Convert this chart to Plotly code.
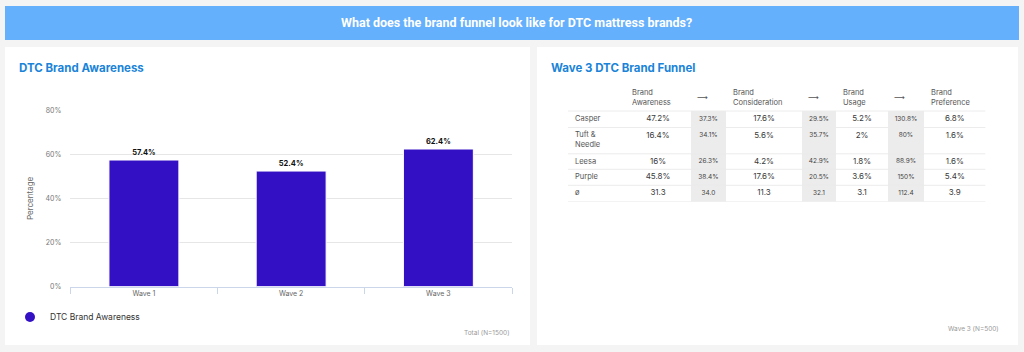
import plotly.graph_objects as go

W, H = 1024, 352

# ---------------- data ----------------
WAVES = ["Wave 1", "Wave 2", "Wave 3"]
DTC_AWARENESS = [57.4, 52.4, 62.4]
Y_TICKS = [0, 20, 40, 60, 80]

BRANDS = ["Casper", "Tuft &<br>Needle", "Leesa", "Purple"]
MEAN_LABEL = "ø"
STAGES = ["Brand<br>Awareness", "Brand<br>Consideration", "Brand<br>Usage", "Brand<br>Preference"]
ARROW = "⟶"
AWARENESS = [47.2, 16.4, 16, 45.8]
CONSIDERATION = [17.6, 5.6, 4.2, 17.6]
USAGE = [5.2, 2, 1.8, 3.6]
PREFERENCE = [6.8, 1.6, 1.6, 5.4]
AWARE_TO_CONSID = [37.3, 34.1, 26.3, 38.4]
CONSID_TO_USAGE = [29.5, 35.7, 42.9, 20.5]
USAGE_TO_PREF = [130.8, 80, 88.9, 150]
COLUMN_MEANS = [31.3, 34.0, 11.3, 32.1, 3.1, 112.4, 3.9]

# ---------------- style ----------------
FONT = "Inter, Roboto, sans-serif"
BAR_COLOR = "#3410c4"
TITLE_BLUE = "#1a84d8"
COL_WIDTHS = [57, 66, 35, 76, 34, 52, 36, 61.6]
ROW_HEIGHTS = [26, 16.5, 26.3, 15.5, 16, 16.4]   # header + 5 body rows
PAD = 7
FIRST_LINE = 8
LINE_H = 9.5

def px_x(v):
    return v / W

def px_y(v):
    return 1 - v / H

fig = go.Figure()

# ---------------- bar chart ----------------
fig.add_trace(go.Bar(
    x=WAVES, y=DTC_AWARENESS, width=0.475,
    marker=dict(color=BAR_COLOR, line=dict(color="#ffffff", width=1)),
    text=[f"<b>{v:g}%</b>" for v in DTC_AWARENESS], textposition="outside",
    textfont=dict(size=7.5, color="#111111", family=FONT),
    cliponaxis=False, showlegend=False, hoverinfo="skip",
    xaxis="x", yaxis="y",
))
fig.add_trace(go.Scatter(
    x=[None], y=[None], mode="markers", name="DTC Brand Awareness",
    marker=dict(symbol="circle", size=10, color=BAR_COLOR),
    xaxis="x", yaxis="y",
))

# ---------------- table ----------------
col_left = [sum(COL_WIDTHS[:i]) for i in range(len(COL_WIDTHS))]
col_center = [col_left[i] + COL_WIDTHS[i] / 2 for i in range(len(COL_WIDTHS))]
row_top = [sum(ROW_HEIGHTS[:i]) for i in range(len(ROW_HEIGHTS))]
table_w = sum(COL_WIDTHS)
table_h = sum(ROW_HEIGHTS)

main_cols = {1: AWARENESS, 3: CONSIDERATION, 5: USAGE, 7: PREFERENCE}
conv_cols = {2: AWARE_TO_CONSID, 4: CONSID_TO_USAGE, 6: USAGE_TO_PREF}

def body_y(r, text):
    """Top-aligned cell text: first line sits FIRST_LINE below the row top."""
    n = text.count("<br>") + 1
    return row_top[r + 1] + FIRST_LINE + (n - 1) * LINE_H / 2

# gray conversion columns
for c in conv_cols:
    fig.add_shape(type="rect", xref="x2", yref="y2",
                  x0=col_left[c], x1=col_left[c] + COL_WIDTHS[c],
                  y0=ROW_HEIGHTS[0], y1=table_h,
                  fillcolor="#ececec", line=dict(width=0), layer="below")
# row lines
for r in range(1, len(ROW_HEIGHTS) + 1):
    yv = sum(ROW_HEIGHTS[:r])
    fig.add_shape(type="line", xref="x2", yref="y2", x0=0, x1=table_w,
                  y0=yv, y1=yv, line=dict(color="#ececec", width=1))

# header texts
hx, hy, ht = [], [], []
stage_cols = [1, 3, 5, 7]
for i, c in enumerate(stage_cols):
    hx.append(col_left[c] + PAD); hy.append(ROW_HEIGHTS[0] / 2); ht.append(STAGES[i])
fig.add_trace(go.Scatter(x=hx, y=hy, text=ht, mode="text", textposition="middle right",
                         textfont=dict(size=7.5, color="#555555", family=FONT),
                         xaxis="x2", yaxis="y2", showlegend=False, hoverinfo="skip"))
ax_, ay_ = [], []
for c in conv_cols:
    ax_.append(col_left[c] + PAD - 1); ay_.append(ROW_HEIGHTS[0] / 2)
fig.add_trace(go.Scatter(x=ax_, y=ay_, text=[ARROW] * len(ax_), mode="text", textposition="middle right",
                         textfont=dict(size=7.5, color="#555555", family="DejaVu Sans"),
                         xaxis="x2", yaxis="y2", showlegend=False, hoverinfo="skip"))

# row labels
labels = BRANDS + [MEAN_LABEL]
fig.add_trace(go.Scatter(
    x=[PAD] * len(labels), y=[body_y(r, t) for r, t in enumerate(labels)],
    text=labels, mode="text", textposition="middle right",
    textfont=dict(size=7.5, color="#555555", family=FONT),
    xaxis="x2", yaxis="y2", showlegend=False, hoverinfo="skip"))

# main values
mx, my, mt = [], [], []
for c, vals in main_cols.items():
    for r, v in enumerate(vals):
        t = f"{v:g}%"
        mx.append(col_center[c]); my.append(body_y(r, t)); mt.append(t)
    t = f"{COLUMN_MEANS[c - 1]:.1f}"
    mx.append(col_center[c]); my.append(body_y(len(vals), t)); mt.append(t)
fig.add_trace(go.Scatter(x=mx, y=my, text=mt, mode="text", textposition="middle center",
                         textfont=dict(size=8, color="#3a3a3a", family=FONT),
                         xaxis="x2", yaxis="y2", showlegend=False, hoverinfo="skip"))

# conversion values
cx, cy, ct = [], [], []
for c, vals in conv_cols.items():
    for r, v in enumerate(vals):
        t = f"{v:g}%"
        cx.append(col_center[c]); cy.append(body_y(r, t)); ct.append(t)
    t = f"{COLUMN_MEANS[c - 1]:.1f}"
    cx.append(col_center[c]); cy.append(body_y(len(vals), t)); ct.append(t)
fig.add_trace(go.Scatter(x=cx, y=cy, text=ct, mode="text", textposition="middle center",
                         textfont=dict(size=6.5, color="#444444", family=FONT),
                         xaxis="x2", yaxis="y2", showlegend=False, hoverinfo="skip"))

# ---------------- layout decorations ----------------
shapes = [
    dict(type="rect", xref="paper", yref="paper", x0=px_x(5), x1=px_x(1019), y0=px_y(40), y1=px_y(6),
         fillcolor="#64b0fc", line=dict(width=0), layer="below"),
    dict(type="rect", xref="paper", yref="paper", x0=px_x(5), x1=px_x(530), y0=px_y(345), y1=px_y(47),
         fillcolor="#ffffff", line=dict(width=0), layer="below"),
    dict(type="rect", xref="paper", yref="paper", x0=px_x(537), x1=px_x(1018), y0=px_y(345), y1=px_y(47),
         fillcolor="#ffffff", line=dict(width=0), layer="below"),
]
for s in shapes:
    fig.add_shape(**s)

def note(text, x, y, xanchor, size, color, family=FONT):
    return dict(text=text, x=x, y=y, xref="paper", yref="paper", xanchor=xanchor, yanchor="middle",
                showarrow=False, font=dict(size=size, color=color, family=family))

annotations = [
    note("<b>What does the brand funnel look like for DTC mattress brands?</b>", px_x(516), px_y(23),
         "center", 12.5, "#ffffff", "Roboto, Inter, sans-serif"),
    note("<b>DTC Brand Awareness</b>", px_x(17), px_y(67.5), "left", 11.5, TITLE_BLUE),
    note("<b>Wave 3 DTC Brand Funnel</b>", px_x(549), px_y(67.5), "left", 11.5, TITLE_BLUE),
    note("Total (N=1500)", px_x(512), px_y(332.5), "right", 6.5, "#999999"),
    note("Wave 3 (N=500)", px_x(1001), px_y(329), "right", 6.5, "#999999"),
]

fig.update_layout(
    width=W, height=H, margin=dict(l=0, r=0, t=0, b=0, autoexpand=False),
    paper_bgcolor="#f4f4f4", plot_bgcolor="rgba(0,0,0,0)",
    font=dict(family=FONT, color="#666666"),
    annotations=annotations,
    showlegend=True,
    legend=dict(x=px_x(10), y=px_y(317), xanchor="left", yanchor="middle",
                font=dict(size=8.5, color="#333333", family=FONT),
                bgcolor="rgba(0,0,0,0)", itemclick=False, itemdoubleclick=False),
    xaxis=dict(domain=[px_x(70.3), px_x(512)], showline=True, linecolor="#ccd6eb", linewidth=1,
               ticks="outside", tickson="boundaries", ticklen=6, tickcolor="#ccd6eb",
               tickfont=dict(size=7, color="#666666"), showgrid=False, zeroline=False,
               fixedrange=True),
    yaxis=dict(domain=[1 - 286.6 / H, 1 - 110.2 / H], range=[0, 80], tickvals=Y_TICKS,
               ticktext=[f"{v}%" for v in Y_TICKS], gridcolor="#e6e6e6", zeroline=False,
               showline=False, tickfont=dict(size=7, color="#777777"), ticklabelstandoff=8,
               title=dict(text="Percentage", font=dict(size=8, color="#666666"), standoff=10),
               fixedrange=True),
    xaxis2=dict(domain=[px_x(568), px_x(568 + table_w)], range=[0, table_w], visible=False,
                fixedrange=True),
    yaxis2=dict(domain=[px_y(85 + table_h), px_y(85)], range=[table_h, 0], visible=False,
                fixedrange=True),
    hovermode=False,
)

fig.write_html("out.html", config={"displayModeBar": False})
